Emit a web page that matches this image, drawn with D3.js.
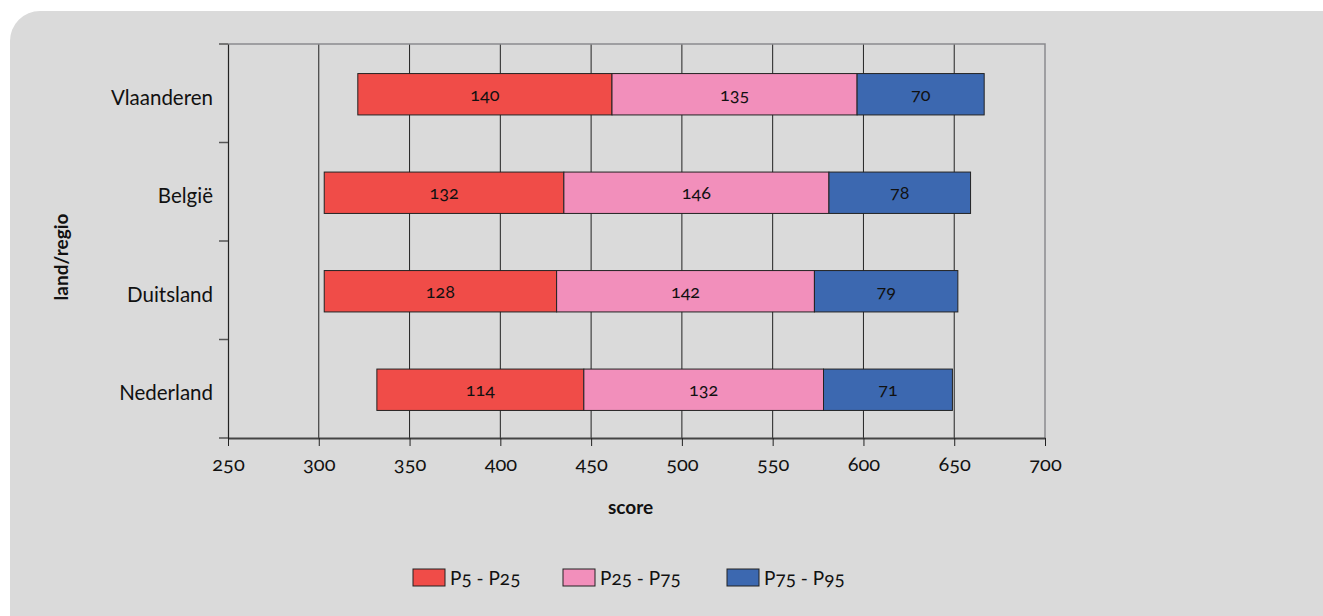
<!DOCTYPE html>
<html><head><meta charset="utf-8">
<script src="https://cdn.jsdelivr.net/npm/d3@7"></script>
<style>
body{margin:0;background:#fff;}
svg text{font-family:Lato,"Open Sans",sans-serif !important;font-variant-numeric:oldstyle-nums;font-feature-settings:"onum" 1;fill:#111;}
</style></head><body>
<svg id="c" width="1323" height="616"></svg>
<script>
const categories = ["Vlaanderen","België","Duitsland","Nederland"];
const start = [321.5, 303, 303, 332];
const p5_p25 = [140, 132, 128, 114];
const p25_p75 = [135, 146, 142, 132];
const p75_p95 = [70, 78, 79, 71];
const seriesNames = ["P5 - P25","P25 - P75","P75 - P95"];
const colors = ["#f04c48","#f28fbb","#3c68b0"];
const xTicks = [250,300,350,400,450,500,550,600,650,700];

const svg = d3.select("#c");
svg.append("rect").attr("x",10).attr("y",11).attr("width",1360).attr("height",660).attr("rx",30).attr("fill","#dadada");

const L=228, R=1045, T=44, B=438;
const x = d3.scaleLinear().domain([250,700]).range([L,R]);
const y = d3.scaleBand().domain(categories).range([T,B]).paddingInner(0.58).paddingOuter(0.29);
const yb = d3.scaleBand().domain(categories).range([T,B]);

// gridlines
svg.append("g").selectAll("line").data(xTicks.filter(t=>t>250&&t<700)).join("line")
  .attr("x1",d=>x(d)).attr("x2",d=>x(d)).attr("y1",T).attr("y2",B).attr("stroke","#222").attr("stroke-width",1);
// top/right border
svg.append("path").attr("d",`M${L},${T}H${R}V${B}`).attr("fill","none").attr("stroke","#8a8a8e").attr("stroke-width",1.5);

// bars
const series=[p5_p25,p25_p75,p75_p95];
categories.forEach((c,i)=>{
  let s=start[i];
  series.forEach((arr,k)=>{
    const v=arr[i];
    svg.append("rect").attr("x",x(s)).attr("y",y(c)+1).attr("width",x(s+v)-x(s)).attr("height",y.bandwidth())
      .attr("fill",colors[k]).attr("stroke","#222").attr("stroke-width",1);
    svg.append("text").attr("x",(x(s)+x(s+v))/2).attr("y",y(c)+1+y.bandwidth()/2).attr("dy","0.35em")
      .attr("text-anchor","middle").attr("font-size",18).text(v);
    s+=v;
  });
});

// x axis
const xa = svg.append("g").attr("transform",`translate(0,${B})`)
  .call(d3.axisBottom(x).tickValues(xTicks).tickSize(8).tickPadding(11).tickSizeOuter(0));
xa.attr("font-size",null).attr("font-family",null);
xa.select(".domain").attr("stroke","#444").attr("stroke-width",2);
xa.selectAll(".tick line").attr("stroke","#222");
xa.selectAll("text").attr("font-size",20);

// y axis
const ya = svg.append("g").attr("transform",`translate(${L},0)`)
  .call(d3.axisLeft(yb).tickSize(0).tickPadding(15));
ya.attr("font-size",null).attr("font-family",null);
ya.select(".domain").attr("stroke","#222").attr("stroke-width",1.2);
ya.selectAll("text").attr("font-size",20.5).attr("dy","0.55em");
// y ticks at band boundaries
const bounds = categories.map(c=>yb(c)).concat([B]);
svg.append("g").selectAll("line").data(bounds).join("line")
  .attr("x1",L-9).attr("x2",L).attr("y1",d=>d).attr("y2",d=>d).attr("stroke","#555").attr("stroke-width",1.5);

// axis titles
svg.append("text").attr("x",(L+R)/2-6).attr("y",514).attr("text-anchor","middle").attr("font-size",19).attr("font-weight","bold").text("score");
svg.append("text").attr("transform",`translate(68,${(T+B)/2+16}) rotate(-90)`).attr("text-anchor","middle").attr("font-size",19).attr("font-weight","bold").text("land/regio");

// legend
const legX=[413,563,727];
seriesNames.forEach((n,k)=>{
  svg.append("rect").attr("x",legX[k]).attr("y",569).attr("width",32).attr("height",17).attr("fill",colors[k]).attr("stroke","#222");
  svg.append("text").attr("x",legX[k]+37).attr("y",578).attr("dy","0.35em").attr("font-size",19).text(n);
});
</script></body></html>
